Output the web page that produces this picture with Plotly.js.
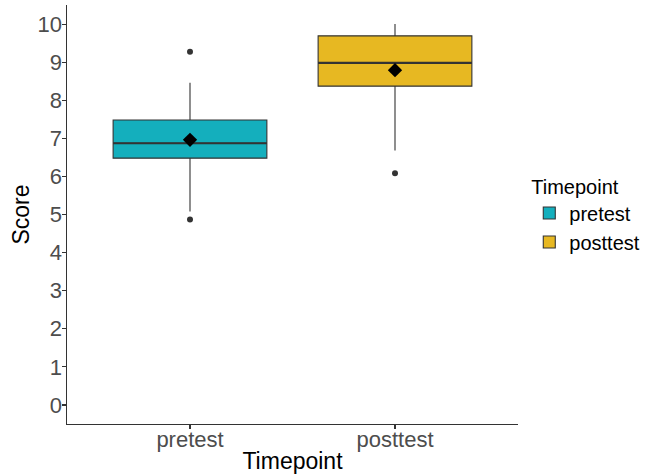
<!DOCTYPE html>
<html>
<head>
<meta charset="utf-8">
<script src="https://cdn.plot.ly/plotly-3.0.1.min.js"></script>
<style>html,body{margin:0;padding:0;background:#fff}#chart{width:651px;height:474px}</style>
</head>
<body>
<div id="chart"></div>
<script>
var categories = ['pretest', 'posttest'];
var colors = ['#14AFBD', '#E7B822'];
var q1 = [6.48, 8.37];
var medians = [6.87, 8.98];
var q3 = [7.48, 9.69];
var lowerWhisker = [5.08, 6.68];
var upperWhisker = [8.46, 10.0];
var means = [6.96, 8.79];
var outlierX = ['pretest', 'pretest', 'posttest'];
var outlierY = [9.27, 4.87, 6.08];
var yTicks = [0, 1, 2, 3, 4, 5, 6, 7, 8, 9, 10];

var traces = [];
categories.forEach(function (c, i) {
  traces.push({
    type: 'box', name: c, x: [c],
    q1: [q1[i]], median: [medians[i]], q3: [q3[i]],
    lowerfence: [lowerWhisker[i]], upperfence: [upperWhisker[i]],
    fillcolor: colors[i], line: {color: '#333333', width: 1.1},
    whiskerwidth: 0, width: 0.75, boxpoints: false, hoverinfo: 'skip',
    legendgroup: c
  });
});
categories.forEach(function (c, i) {
  traces.push({
    type: 'box', name: c + ' median', x: [c],
    q1: [medians[i]], median: [medians[i]], q3: [medians[i]],
    lowerfence: [medians[i]], upperfence: [medians[i]],
    fillcolor: 'rgba(0,0,0,0)', line: {color: '#333333', width: 2.2},
    whiskerwidth: 0, width: 0.75, boxpoints: false, showlegend: false, hoverinfo: 'skip'
  });
});
traces.push({
  type: 'scatter', mode: 'markers', x: outlierX, y: outlierY, showlegend: false,
  marker: {color: '#333333', size: 6, symbol: 'circle'}, hoverinfo: 'skip'
});
traces.push({
  type: 'scatter', mode: 'markers', x: categories, y: means, showlegend: false,
  marker: {color: '#000000', size: 11, symbol: 'diamond'}, hoverinfo: 'skip'
});
// invisible trace holding the tick-mark overlay axes
traces.push({
  type: 'scatter', mode: 'markers', x: categories, y: means, xaxis: 'x2', yaxis: 'y2',
  showlegend: false, marker: {opacity: 0}, hoverinfo: 'skip'
});

var tickMarks = {
  ticks: 'outside', ticklen: 4, tickcolor: '#333333', tickwidth: 1.1,
  showticklabels: false, showgrid: false, zeroline: false,
  showline: true, linecolor: '#333333', linewidth: 1.1
};

var layout = {
  width: 651, height: 474,
  margin: {l: 67, r: 133, t: 4.5, b: 49.5},
  paper_bgcolor: '#ffffff', plot_bgcolor: '#ffffff',
  font: {family: 'Liberation Sans, Arial, sans-serif'},
  boxmode: 'overlay',
  xaxis: {
    type: 'category', categoryorder: 'array', categoryarray: categories,
    range: [-0.6, 1.6], showgrid: false, zeroline: false,
    anchor: 'free', position: 0,
    showline: false, ticks: '',
    tickfont: {size: 22, color: '#4D4D4D'},
    title: {text: 'Timepoint', font: {size: 23, color: '#000000'}, standoff: 2}
  },
  yaxis: {
    range: [-0.5, 10.5], tickvals: yTicks, ticktext: yTicks.map(String),
    showgrid: false, zeroline: false,
    anchor: 'free', position: 0,
    showline: false, ticks: '', ticklabelstandoff: 5,
    tickfont: {size: 22, color: '#4D4D4D'},
    title: {text: 'Score', font: {size: 23, color: '#000000'}, standoff: 0}
  },
  xaxis2: Object.assign({
    type: 'category', categoryorder: 'array', categoryarray: categories,
    overlaying: 'x', matches: 'x', anchor: 'y2', side: 'bottom'
  }, tickMarks),
  yaxis2: Object.assign({
    tickvals: yTicks, overlaying: 'y', matches: 'y', anchor: 'x2', side: 'left'
  }, tickMarks),
  legend: {
    x: 1.025, xanchor: 'left', y: 0.5, yanchor: 'middle',
    title: {text: 'Timepoint', font: {size: 20, color: '#000000'}},
    font: {size: 20, color: '#000000'},
    tracegroupgap: 0, itemwidth: 30
  },
  showlegend: true
};

Plotly.newPlot('chart', traces, layout, {displayModeBar: false, staticPlot: true});
</script>
</body>
</html>
